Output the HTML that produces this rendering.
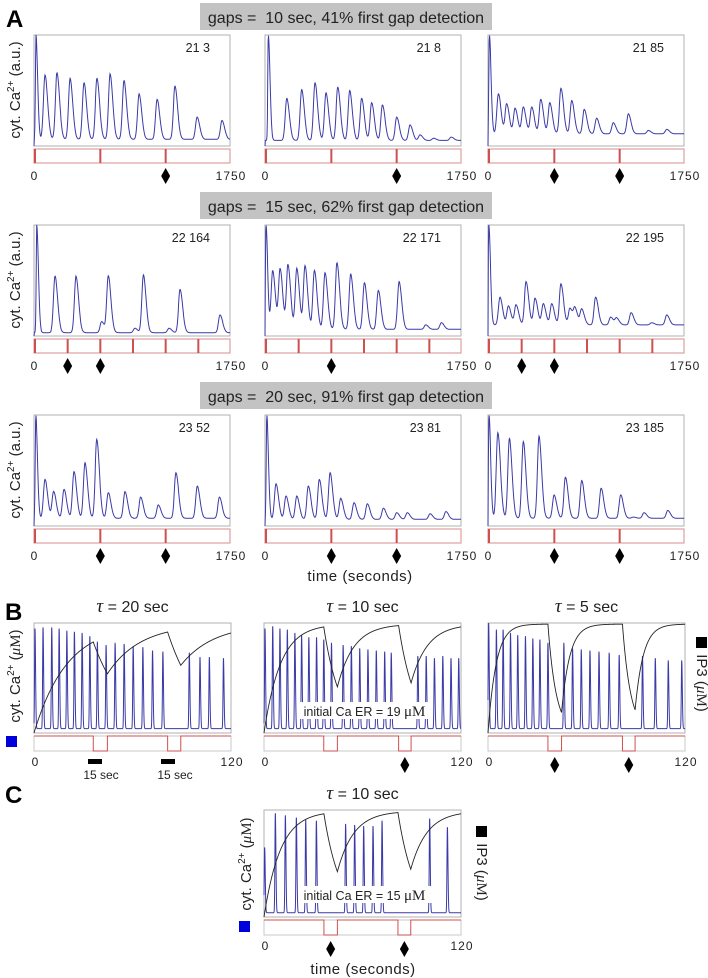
<!DOCTYPE html>
<html><head><meta charset="utf-8"><style>
html,body{margin:0;padding:0;background:#fff;}
svg{display:block;font-family:"Liberation Sans",sans-serif;}
</style></head><body>
<svg id="fig" width="708" height="978" viewBox="0 0 708 978" xmlns="http://www.w3.org/2000/svg">
<g id="static">
<text x="6" y="27" font-size="24" font-weight="bold">A</text>
<text x="5" y="620" font-size="24" font-weight="bold">B</text>
<text x="5" y="803" font-size="24" font-weight="bold">C</text>
<rect x="200" y="3" width="292" height="27" fill="#c3c3c3"/>
<text x="346" y="23" font-size="16" text-anchor="middle" fill="#222" xml:space="preserve">gaps =  10 sec, 41% first gap detection</text>
<rect x="200" y="192" width="292" height="27" fill="#c3c3c3"/>
<text x="346" y="212" font-size="16" text-anchor="middle" fill="#222" xml:space="preserve">gaps =  15 sec, 62% first gap detection</text>
<rect x="200" y="382" width="292" height="27" fill="#c3c3c3"/>
<text x="346" y="402" font-size="16" text-anchor="middle" fill="#222" xml:space="preserve">gaps =  20 sec, 91% first gap detection</text>
<text transform="translate(20,90) rotate(-90)" font-size="15" text-anchor="middle" fill="#222">cyt. Ca<tspan font-size="10" dy="-6">2+</tspan><tspan dy="6"> (a.u.)</tspan></text>
<text transform="translate(20,280) rotate(-90)" font-size="15" text-anchor="middle" fill="#222">cyt. Ca<tspan font-size="10" dy="-6">2+</tspan><tspan dy="6"> (a.u.)</tspan></text>
<text transform="translate(20,470) rotate(-90)" font-size="15" text-anchor="middle" fill="#222">cyt. Ca<tspan font-size="10" dy="-6">2+</tspan><tspan dy="6"> (a.u.)</tspan></text>
<text x="360" y="581" font-size="15" text-anchor="middle" fill="#222" letter-spacing="0.5">time (seconds)</text>
<text transform="translate(20,676) rotate(-90)" font-size="15" text-anchor="middle" fill="#222">cyt. Ca<tspan font-size="10" dy="-6">2+</tspan><tspan dy="6"> (</tspan><tspan font-family="Liberation Serif,serif" font-style="italic">μ</tspan><tspan font-family="Liberation Serif,serif">M</tspan>)</text>
<rect x="6" y="736" width="11" height="11" fill="#0000dd"/>
<rect x="696" y="637" width="11" height="11" fill="#000"/>
<text transform="translate(697,683) rotate(90)" font-size="15" text-anchor="middle" fill="#222">IP3 (<tspan font-family="Liberation Serif,serif" font-style="italic">μ</tspan><tspan font-family="Liberation Serif,serif">M</tspan>)</text>
<text transform="translate(251,864) rotate(-90)" font-size="15" text-anchor="middle" fill="#222">cyt. Ca<tspan font-size="10" dy="-6">2+</tspan><tspan dy="6"> (</tspan><tspan font-family="Liberation Serif,serif" font-style="italic">μ</tspan><tspan font-family="Liberation Serif,serif">M</tspan>)</text>
<rect x="239" y="921" width="11" height="11" fill="#0000dd"/>
<rect x="476" y="826" width="11" height="11" fill="#000"/>
<text transform="translate(477,872) rotate(90)" font-size="15" text-anchor="middle" fill="#222">IP3 (<tspan font-family="Liberation Serif,serif" font-style="italic">μ</tspan><tspan font-family="Liberation Serif,serif">M</tspan>)</text>
<text x="363" y="974" font-size="15" text-anchor="middle" fill="#222" letter-spacing="0.5">time (seconds)</text>
<rect x="88" y="759" width="14" height="5" fill="#000"/>
<rect x="161" y="759" width="14" height="5" fill="#000"/>
<text x="101" y="779" font-size="12" text-anchor="middle" fill="#222">15 sec</text>
<text x="175" y="779" font-size="12" text-anchor="middle" fill="#222">15 sec</text>
</g>
</svg>
<script>
// ---------- Panel A data: peaks as [time fraction of 1750 s, relative amplitude] ----------
const aLabels = ["21 3","21 8","21 85","22 164","22 171","22 195","23 52","23 81","23 185"];
const aSegments = [3,3,3,6,6,6,3,3,3];
const aDiamondGaps = [[2],[2],[1,2],[1,2],[2],[1,2],[1,2],[1,2],[1,2]];
const aBaselines = [0.06,0.05,0.11,0.03,0.06,0.1,0.07,0.06,0.07];
const aPeaks0 = [[0.01,1],[0.056,.64],[0.117,.66],[0.184,.61],[0.255,.57],[0.321,.61],[0.388,.65],[0.459,.59],[0.536,.47],[0.628,.42],[0.719,.54],[0.832,.26],[0.959,.23]];
const aPeaks1 = [[0.017,1],[0.111,.43],[0.187,.51],[0.255,.57],[0.311,.48],[0.371,.53],[0.432,.50],[0.493,.43],[0.544,.39],[0.599,.37],[0.672,.26],[0.740,.19],[0.791,.10],[0.86,.07],[0.95,.08]];
const aPeaks2 = [[0.007,1],[0.053,.47],[0.095,.38],[0.138,.34],[0.180,.35],[0.223,.35],[0.269,.42],[0.315,.39],[0.372,.52],[0.427,.41],[0.491,.33],[0.554,.25],[0.639,.21],[0.716,.29],[0.818,.14],[0.912,.15]];
const aPeaks3 = [[0.014,1],[0.107,.54],[0.214,.54],[0.345,.13],[0.379,.54],[0.515,.07],[0.558,.55],[0.689,.07],[0.745,.42],[0.949,.19]];
const aPeaks4 = [[0.005,1],[0.039,.59],[0.077,.60],[0.117,.64],[0.162,.61],[0.204,.63],[0.252,.59],[0.306,.57],[0.367,.66],[0.437,.56],[0.507,.48],[0.578,.41],[0.684,.49],[0.82,.1],[0.90,.12]];
const aPeaks5 = [[0.004,1],[0.061,.35],[0.104,.27],[0.143,.28],[0.194,.49],[0.240,.34],[0.282,.29],[0.325,.29],[0.372,.47],[0.418,.25],[0.444,.24],[0.478,.24],[0.549,.35],[0.626,.17],[0.656,.16],[0.730,.21],[0.835,.12],[0.912,.19]];
const aPeaks6 = [[0.009,1],[0.056,.42],[0.100,.31],[0.153,.33],[0.204,.49],[0.260,.57],[0.320,.78],[0.379,.30],[0.464,.31],[0.544,.26],[0.634,.19],[0.724,.48],[0.833,.36],[0.946,.26]];
const aPeaks7 = [[0.009,1],[0.056,.38],[0.107,.27],[0.162,.27],[0.221,.36],[0.277,.42],[0.332,.48],[0.386,.25],[0.454,.21],[0.522,.20],[0.604,.16],[0.672,.12],[0.726,.12],[0.842,.11],[0.923,.13]];
const aPeaks8 = [[0.005,1],[0.05,.84],[0.109,.79],[0.180,.76],[0.260,.81],[0.337,.28],[0.395,.44],[0.478,.41],[0.577,.34],[0.677,.28],[0.741,.08],[0.796,.12],[0.917,.14]];
const aPeaks = [aPeaks0,aPeaks1,aPeaks2,aPeaks3,aPeaks4,aPeaks5,aPeaks6,aPeaks7,aPeaks8];
const aTicks = ["0","1750"];

// ---------- Panel B/C data (time in s, amplitude relative) ----------
const bTitles = ["20","10","5","10"];
const bTau = [20,10,5,10];
const bGaps0 = [[36.1,44.7],[81.4,89.4]];
const bGaps1 = [[36.4,44.7],[82,89.6]];
const bGaps2 = [[36.5,44.8],[81.9,89.6]];
const bGaps3 = [[36.5,44.7],[81.6,89.4]];
const bSpikeT0 = [0.6,5.5,10.8,15.3,20,24.6,29.3,34,38.6,43.9,49.4,54.9,60.4,66.3,72.2,78.5,94.6,101.1,106.8,115.4];
const bSpikeV0 = [.95,.96,.96,.95,.93,.92,.91,.88,.83,.80,.82,.81,.79,.78,.75,.74,.73,.69,.69,.68];
const bSpikeT1 = [.6,5.3,9.7,14.2,18.8,22.9,27.3,32,36.4,41.1,48.2,53.2,58.3,63.3,68.4,73.5,77.5,93.7,98.8,103.8,108.9,113.9,118.6];
const bSpikeV1 = [.95,.97,.95,.94,.91,.89,.87,.87,.85,.82,.80,.79,.77,.76,.75,.74,.73,.70,.70,.68,.70,.68,.68];
const bSpikeT2 = [.4,5.1,9.2,13.7,18.1,22.8,27.3,31.6,36.5,46.2,51.5,56.8,62.1,67.6,73.8,79.9,94.1,101.9,109.8,118];
const bSpikeV2 = [1,.94,.94,.91,.89,.88,.86,.85,.82,.82,.77,.76,.75,.74,.73,.71,.70,.68,.66,.66];
const bSpikeT3 = [.4,6.9,13,19.7,25.4,31.9,49.7,55.2,60.7,66.4,71.9,100.9,111.7];
const bSpikeV3 = [.65,.97,.95,.93,.91,.90,.87,.86,.85,.85,.90,.92,.84];
const bDiamondGaps = [[],[1],[0,1],[0,1]];
const bErText = [null,"19",null,"15"];
const bTicks = ["0","120"];

const NS="http://www.w3.org/2000/svg";
const svg=document.getElementById('fig');
function el(tag,attrs,parent){const e=document.createElementNS(NS,tag);for(const k in attrs)e.setAttribute(k,attrs[k]);(parent||svg).appendChild(e);return e;}
function diamond(cx,cy,parent){
  const d=el('polygon',{points:`${cx},${cy-8} ${cx+4.5},${cy} ${cx},${cy+8} ${cx-4.5},${cy}`,fill:'#000'},parent);
  
  
}

// ---------- Panel A ----------
const aColX=[34,265,488], aRowY=[35,225,415], aW=196, aH=111;
for(let i=0;i<9;i++){
  const col=i%3,row=Math.floor(i/3);
  const x0=aColX[col],y0=aRowY[row];
  const g=el('g',{});
  
  
  const xs=t=>x0+t*aW, ys=v=>y0+aH-Math.max(0,Math.min(1,v))*aH;
  const box=el('rect',{x:x0,y:y0,width:aW,height:aH,fill:'none',stroke:'#b0b0b0','stroke-width':1},g);
  
  
  const pk=aPeaks[i],b=aBaselines[i];
  let pts=[];
  for(let k=0;k<=500;k++){
    const t=k/500;let v=b;
    pk.forEach(([tp,h],j)=>{const d=t-tp;const w=j===0?(d<0?0.004:0.012):(d<0?0.011:0.019);v+=(h-b)*Math.exp(-(d/w)*(d/w));});
    if(k===0)v=0;
    pts.push(xs(t).toFixed(1)+','+ys(v).toFixed(1));
  }
  const line=el('polyline',{points:pts.join(' '),fill:'none',stroke:'#3a3aa8','stroke-width':1},g);
  
  
  const lab=el('text',{x:x0+aW-20,y:y0+17,'font-size':12.5,'text-anchor':'end',fill:'#222'},g);
  lab.textContent=aLabels[i];
  
  
  const sy=y0+aH+3,sh=14;
  const sb=el('rect',{x:x0,y:sy,width:aW,height:sh,fill:'none',stroke:'#dca0a0','stroke-width':1.2},g);
  
  
  const n=aSegments[i];
  for(let s=0;s<=n-1;s++){
    const gx=xs(s/n);
    const m=el('rect',{x:gx,y:sy,width:2,height:sh,fill:'#d05050'},g);
    
    
  }
  const ty=y0+aH+34;
  const t0=el('text',{x:x0,y:ty,'font-size':12,'text-anchor':'middle',fill:'#222'},g);t0.textContent=aTicks[0];
  
  
  const t1=el('text',{x:x0+aW+1,y:ty,'font-size':12,'text-anchor':'middle',fill:'#222','letter-spacing':'1'},g);t1.textContent=aTicks[1];
  
  
  for(const gi of aDiamondGaps[i]) diamond(xs(gi/n)+1,ty-4,g);
}

// ---------- Panel B / C ----------
const bBoxes=[[34,623],[264,623],[488,623],[264,810]], bW=197, bHs=[110,110,110,107];
const bGaps=[bGaps0,bGaps1,bGaps2,bGaps3], bST=[bSpikeT0,bSpikeT1,bSpikeT2,bSpikeT3], bSV=[bSpikeV0,bSpikeV1,bSpikeV2,bSpikeV3];
for(let i=0;i<4;i++){
  const [x0,y0]=bBoxes[i],h=bHs[i];
  const g=el('g',{});
  
  
  const xs=t=>x0+t/120*bW, ys=v=>y0+h-Math.max(0,Math.min(1,v))*h;
  const tt=el('text',{x:x0+bW/2,y:y0-11,'font-size':16,'text-anchor':'middle',fill:'#222'},g);
  
  
  tt.setAttribute('xml:space','preserve');
  const ts=document.createElementNS(NS,'tspan');ts.setAttribute('font-family','Liberation Serif,serif');ts.setAttribute('font-style','italic');ts.setAttribute('font-size','19');ts.textContent='τ';tt.appendChild(ts);
  const ts2=document.createElementNS(NS,'tspan');ts2.textContent=' =  '+bTitles[i]+' sec';tt.appendChild(ts2);
  const box=el('rect',{x:x0,y:y0,width:bW,height:h,fill:'none',stroke:'#b0b0b0','stroke-width':1},g);
  
  
  const gaps=bGaps[i];
  const stimOn=t=>!gaps.some(([a,b])=>t>=a&&t<b);
  const base=0.04;let pts=[];
  for(let k=0;k<=2400;k++){
    const t=k*0.05;let v=base;
    bST[i].forEach((tp,j)=>{const d=t-tp;const w=d<0?0.35:0.5;v+=(bSV[i][j]-base)*Math.exp(-(d/w)*(d/w));});
    pts.push(xs(t).toFixed(2)+','+ys(v).toFixed(2));
  }
  const ca=el('polyline',{points:pts.join(' '),fill:'none',stroke:'#3a3aa8','stroke-width':1},g);
  
  
  let I=0,ip=[];
  for(let k=0;k<=2400;k++){
    const t=k*0.05;
    ip.push(xs(t).toFixed(2)+','+ys(I*0.99).toFixed(2));
    I+=((stimOn(t)?1:0)-I)/bTau[i]*0.05;
  }
  const ipl=el('polyline',{points:ip.join(' '),fill:'none',stroke:'#222','stroke-width':0.9},g);
  
  
  if(bErText[i]){
    const cx=x0+bW/2+2,cy=y0+h-22;
    const bg=el('rect',{x:cx-65,y:cy-9,width:132,height:17,fill:'#fff'},g);
    
    
    const et=el('text',{x:cx,y:cy+5,'font-size':12.5,'text-anchor':'middle',fill:'#222'},g);
    
    
    et.textContent='initial Ca ER = '+bErText[i]+' ';
    const mu=document.createElementNS(NS,'tspan');mu.setAttribute('font-family','Liberation Serif,serif');mu.setAttribute('font-size','15');mu.textContent='μM';et.appendChild(mu);
  }
  const sy=y0+h+3,sh=15;
  const sb=el('rect',{x:x0,y:sy,width:bW,height:sh,fill:'none',stroke:'#c8c8c8','stroke-width':1},g);
  
  
  let sp=[`${x0},${sy}`];
  for(const [a,b] of gaps){sp.push(`${xs(a)},${sy}`,`${xs(a)},${sy+sh}`,`${xs(b)},${sy+sh}`,`${xs(b)},${sy}`);}
  sp.push(`${x0+bW},${sy}`);
  const st=el('polyline',{points:sp.join(' '),fill:'none',stroke:'#d05050','stroke-width':1},g);
  
  
  const ty=sy+sh+15;
  const t0=el('text',{x:x0+1,y:ty,'font-size':12,'text-anchor':'middle',fill:'#222'},g);t0.textContent=bTicks[0];
  
  
  const t1=el('text',{x:x0+bW+1,y:ty,'font-size':12,'text-anchor':'middle',fill:'#222','letter-spacing':'1'},g);t1.textContent=bTicks[1];
  
  
  for(const gi of bDiamondGaps[i]){const [a,b]=gaps[gi];diamond(xs((a+b)/2),ty-1,g);}
}
</script>
</body></html>
